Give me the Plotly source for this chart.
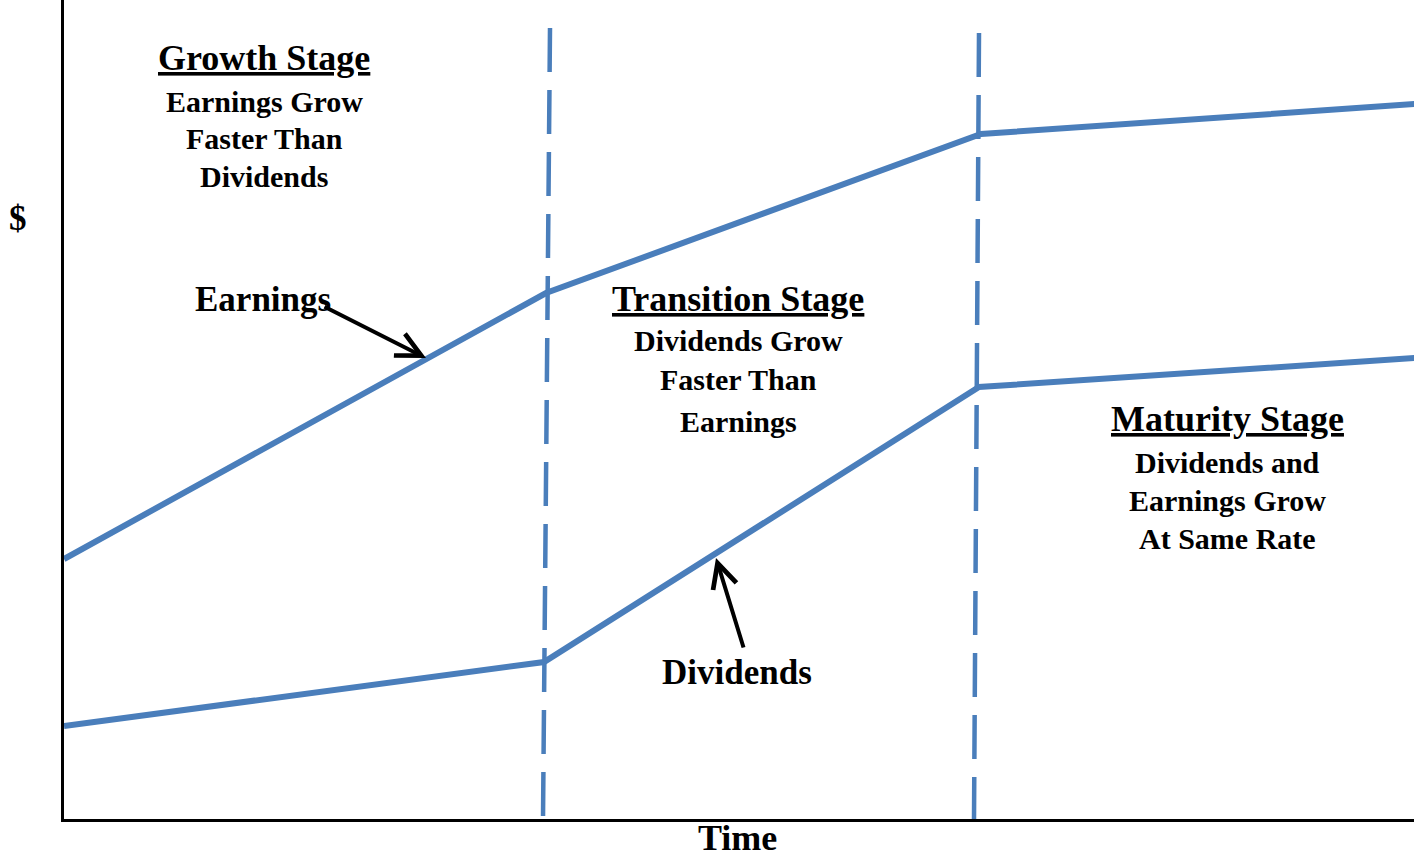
import plotly.graph_objects as go

# Data (time units on x, $ units on y)
earn_t = [0, 482, 917, 1351]
earn_v = [260, 526, 685, 715]
div_t = [0, 480, 915, 1351]
div_v = [93, 157, 432, 461]
# stage boundaries (slightly slanted dashed lines): top and bottom
b1_t = [486, 479]
b1_v = [791, 0]
b2_t = [915, 910]
b2_v = [786, 0]

BLUE = "#4A7EBB"
FONT = "Liberation Serif"

fig = go.Figure()
for bt, bv in [(b1_t, b1_v), (b2_t, b2_v)]:
    fig.add_trace(go.Scatter(x=bt, y=bv, mode="lines",
                             line=dict(color=BLUE, width=4.5, dash="44px,18px"),
                             hoverinfo="skip", showlegend=False))
fig.add_trace(go.Scatter(x=earn_t, y=earn_v, mode="lines", name="Earnings",
                         line=dict(color=BLUE, width=6), showlegend=False))
fig.add_trace(go.Scatter(x=div_t, y=div_v, mode="lines", name="Dividends",
                         line=dict(color=BLUE, width=6), showlegend=False))

def txt(x, y, s, size, ref="data"):
    r = ("x", "y") if ref == "data" else ("paper", "paper")
    fig.add_annotation(x=x, y=y, xref=r[0], yref=r[1], text=f"<b>{s}</b>",
                       showarrow=False, xanchor="center", yanchor="middle",
                       font=dict(family=FONT, size=size, color="black"))

H = 36
B = 30
# Growth stage
txt(200, 761, "<u>Growth Stage</u>", H)
txt(200, 718, "Earnings Grow", B)
txt(200, 681, "Faster Than", B)
txt(200, 643, "Dividends", B)
# Transition stage
txt(674, 520, "<u>Transition Stage</u>", H)
txt(674, 479, "Dividends Grow", B)
txt(674, 440, "Faster Than", B)
txt(674, 398, "Earnings", B)
# Maturity stage
txt(1163, 400, "<u>Maturity Stage</u>", H)
txt(1163, 357, "Dividends and", B)
txt(1163, 319, "Earnings Grow", B)
txt(1163, 281, "At Same Rate", B)
# Labels
txt(199, 520, "Earnings", 35)
txt(673, 147, "Dividends", 35)
txt(-0.034, 0.7335, "$", 35, ref="paper")
txt(0.4989, -0.0235, "Time", 36, ref="paper")

# Arrows
fig.add_annotation(x=362, y=461, ax=259, ay=513, xref="x", yref="y", axref="x", ayref="y",
                   text="", showarrow=True, arrowhead=5, arrowsize=1.2, arrowwidth=4,
                   arrowcolor="black")
fig.add_annotation(x=652, y=261, ax=680, ay=170, xref="x", yref="y", axref="x", ayref="y",
                   text="", showarrow=True, arrowhead=5, arrowsize=1.2, arrowwidth=4,
                   arrowcolor="black")

fig.update_layout(
    width=1414, height=863,
    margin=dict(l=64, r=0, t=0, b=44),
    paper_bgcolor="white", plot_bgcolor="white",
    showlegend=False,
    xaxis=dict(range=[0, 1350], showgrid=False, zeroline=False, showticklabels=False,
               ticks="", showline=True, linecolor="black", linewidth=3),
    yaxis=dict(range=[0, 819], showgrid=False, zeroline=False, showticklabels=False,
               ticks="", showline=True, linecolor="black", linewidth=3),
)
fig.write_html("out.html", config={"displayModeBar": False},
               post_script="document.body.style.margin='0';document.body.style.overflow='hidden';")
